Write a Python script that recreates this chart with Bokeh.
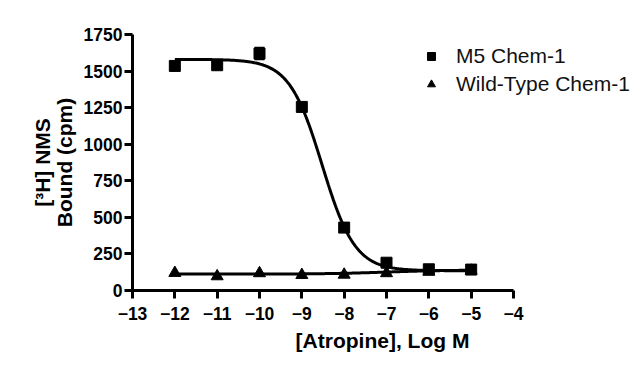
import numpy as np
from bokeh.plotting import figure
from bokeh.models import (Range1d, FixedTicker, Legend, LegendItem, ColumnDataSource,
                          Whisker, LinearAxis)
from bokeh.embed import file_html
from bokeh.resources import INLINE

# ---- data ----
log_atropine = [-12, -11, -10, -9, -8, -7, -6, -5]
m5_bound = [1535, 1540, 1620, 1255, 430, 190, 145, 143]
m5_sem = [15, 15, 40, 20, 15, 10, 10, 10]
wt_bound = [120, 97, 118, 106, 108, 118, 128, 135]

# fitted one-site competition curves (left plateau, right plateau, logIC50, hill)
m5_fit = dict(top=1580, bottom=135, logic50=-8.52, hill=1.12)
wt_fit = dict(top=112, bottom=140, logic50=-7.0, hill=0.6)

x_ticks = [-13, -12, -11, -10, -9, -8, -7, -6, -5, -4]
y_ticks = [0, 250, 500, 750, 1000, 1250, 1500, 1750]

FONT = "Liberation Sans"


def sigmoid(x, top, bottom, logic50, hill):
    return bottom + (top - bottom) / (1 + 10 ** ((x - logic50) * hill))


xs = np.linspace(min(log_atropine), max(log_atropine), 300)

W, H = 632, 362
BL, BR, BT, BB = 132, 0, 34, 72
frame_w = W - BL - BR
x_end = -13 + 9 * frame_w / 381.0   # axis from -13 to -4 spans 381 px

p = figure(width=W, height=H, output_backend="svg", toolbar_location=None,
           x_range=Range1d(-13, x_end), y_range=Range1d(0, 1750),
           min_border_left=BL, min_border_right=BR, min_border_top=BT, min_border_bottom=BB)
p.outline_line_color = None
p.grid.visible = False
p.background_fill_color = "white"

p.line(xs, sigmoid(xs, **m5_fit), line_color="black", line_width=3)
p.line(xs, sigmoid(xs, **wt_fit), line_color="black", line_width=3)

src = ColumnDataSource(dict(x=log_atropine, y=m5_bound,
                            lo=[v - s for v, s in zip(m5_bound, m5_sem)],
                            hi=[v + s for v, s in zip(m5_bound, m5_sem)]))
w = Whisker(source=src, base="x", lower="lo", upper="hi", line_color="black", line_width=2)
w.upper_head.size = 10
w.lower_head.size = 10
w.upper_head.line_width = 2
w.lower_head.line_width = 2
p.add_layout(w)

p.scatter(log_atropine, m5_bound, marker="square", size=11, color="black")
p.scatter(log_atropine, wt_bound, marker="triangle", size=12, color="black")

# legend-only renderers with smaller glyphs (no visible data)
lg1 = p.scatter([np.nan], [np.nan], marker="square", size=9, color="black")
lg2 = p.scatter([np.nan], [np.nan], marker="triangle", size=10, color="black")
legend = Legend(items=[LegendItem(label="M5 Chem-1", renderers=[lg1]),
                       LegendItem(label="Wild-Type Chem-1", renderers=[lg2])],
                location=(289, 194))
legend.border_line_color = None
legend.background_fill_alpha = 0
legend.label_text_font = FONT
legend.label_text_font_size = "21px"
legend.label_text_color = "#111111"
legend.glyph_width = 20
legend.glyph_height = 22
legend.label_height = 22
legend.spacing = 4
legend.label_standoff = 15
legend.padding = 10
legend.margin = 0
p.add_layout(legend)

# second, outer left axis that only carries the first line of the y title
yaxis2 = LinearAxis(ticker=FixedTicker(ticks=[]), axis_line_color=None,
                    major_tick_line_color=None, minor_tick_line_color=None)
p.add_layout(yaxis2, "left")

for ax in (p.xaxis[0], p.yaxis[0], yaxis2):
    ax.axis_line_width = 3
    ax.major_tick_line_width = 3
    ax.major_tick_out = 8
    ax.major_tick_in = 0
    ax.minor_tick_line_color = None
    ax.major_label_text_font = FONT
    ax.major_label_text_font_style = "bold"
    ax.major_label_text_font_size = "17.5px"
    ax.major_label_text_color = "black"
    ax.axis_label_text_font = FONT
    ax.axis_label_text_font_style = "bold"
    ax.axis_label_text_font_size = "21px"
    ax.axis_label_text_color = "black"

for ax in (p.xaxis[0], p.yaxis[0]):
    ax.axis_line_color = "black"
    ax.major_tick_line_color = "black"

p.xaxis[0].bounds = (-13, -4)
p.xaxis[0].ticker = FixedTicker(ticks=x_ticks)
p.yaxis[0].ticker = FixedTicker(ticks=y_ticks)
p.xaxis[0].major_label_standoff = 8
p.yaxis[0].major_label_standoff = 2
p.xaxis[0].axis_label = "[Atropine], Log M"
p.yaxis[0].axis_label = "Bound (cpm)"
yaxis2.axis_label = "[³H] NMS"
p.xaxis[0].axis_label_standoff = 6
p.yaxis[0].axis_label_standoff = 5
yaxis2.axis_label_standoff = -4
yaxis2.major_label_standoff = 0
yaxis2.major_tick_out = 0

open("out.html", "w").write(file_html(p, INLINE))
